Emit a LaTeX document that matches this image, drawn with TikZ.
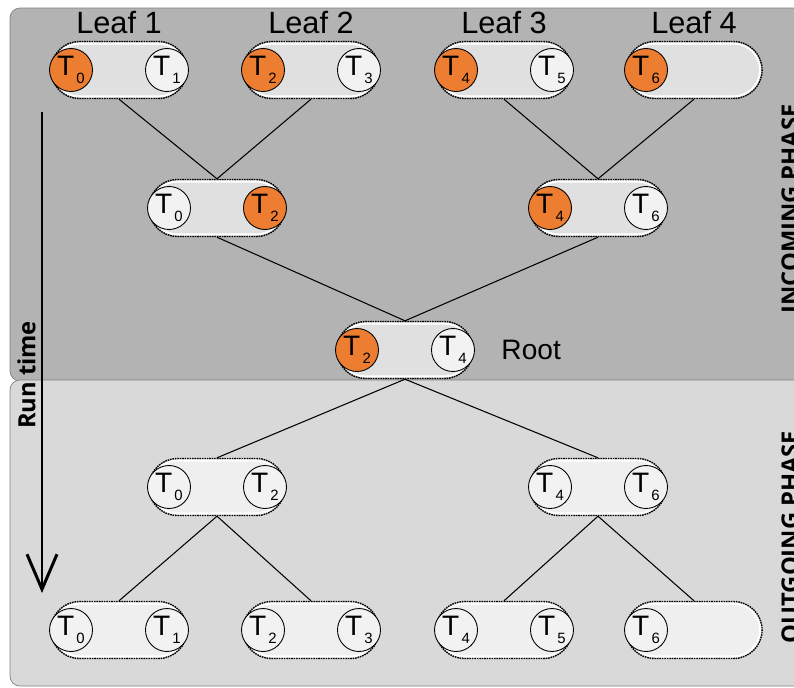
\documentclass[tikz,border=0pt]{standalone}
\usepackage{fontspec}
\setmainfont{Liberation Sans}
\newfontfamily\phasefont{Open Sans}
\usetikzlibrary{positioning,shapes.misc,arrows.meta}
\definecolor{topgray}{HTML}{B3B3B3}
\definecolor{botgray}{HTML}{D9D9D9}
\definecolor{busyorange}{HTML}{ED7D31}
\definecolor{idlewhite}{HTML}{F2F2F2}
\newcommand{\Tk}[1]{T\kern1.2pt\raisebox{-4.5pt}{\fontsize{8.5}{8.5}\selectfont #1}}

\begin{document}
\begin{tikzpicture}[x=0.02cm,y=-0.02cm,font=\fontsize{16}{18}\selectfont]

    \tikzstyle{ring}=[rounded rectangle,draw=black,dash pattern=on 0.9pt off 0.5pt,line width=0.8pt,minimum width=2.96cm,minimum height=1.14cm]
    \tikzstyle{pill}=[rounded rectangle,draw=white,line width=1.2pt,fill=white,fill opacity=0.6,minimum width=2.88cm,minimum height=1.06cm,outer sep=0.04cm]
    \tikzstyle{busy}=[circle,draw=black,line width=0.5pt,fill=busyorange,minimum size=0.86cm,inner sep=0pt,font=\fontsize{16}{16}\selectfont]
    \tikzstyle{idle}=[busy,fill=idlewhite]
    \tikzstyle{phase}=[rotate=90,anchor=north,inner sep=0pt,font={\fontsize{13.5}{16}\phasefont\bfseries}]
    \tikzstyle{leaflabel}=[inner sep=0pt,label distance=0.15cm,font=\fontsize{17.5}{18}\selectfont]

\clip (0,0) rectangle (794,687);

\draw[draw=gray,fill=topgray,rounded corners=0.2cm] (10,8) rectangle (830,381);
\draw[draw=gray,fill=botgray,rounded corners=0.2cm] (10,380) rectangle (830,686);

% incoming phase
\node (Lin_1) [pill,label={[leaflabel]above:Leaf 1}] at (119,70) {};
\node (Lin_2) [pill,label={[leaflabel]above:Leaf 2}] at (311,70) {};
\node (Lin_3) [pill,label={[leaflabel]above:Leaf 3}] at (504,70) {};
\node (Lin_4) [pill,label={[leaflabel]above:Leaf 4}] at (694,70) {};
\node (Min_1) [pill] at (217,208) {};
\node (Min_2) [pill] at (598,208) {};
\node (Root) [pill] at (405,350) {};
\node (Root_label) [right=0.56cm of Root,inner sep=0pt] {Root};

% outgoing phase
\node (Mout_1) [pill] at (217,487) {};
\node (Mout_2) [pill] at (598,487) {};
\node (Lout_1) [pill] at (119,630) {};
\node (Lout_2) [pill] at (311,630) {};
\node (Lout_3) [pill] at (504,630) {};
\node (Lout_4) [pill] at (694,630) {};

% dotted outlines
\foreach \p in {Lin_1,Lin_2,Lin_3,Lin_4,Min_1,Min_2,Root,Mout_1,Mout_2,Lout_1,Lout_2,Lout_3,Lout_4}
  \node (\p_ring) [ring] at (\p.center) {};

\node (Lin_1a) [busy] at ([xshift=-0.96cm]Lin_1.center) {\Tk{0}};
\node (Lin_1b) [idle] at ([xshift=0.96cm]Lin_1.center) {\Tk{1}};
\node (Lin_2a) [busy] at ([xshift=-0.96cm]Lin_2.center) {\Tk{2}};
\node (Lin_2b) [idle] at ([xshift=0.96cm]Lin_2.center) {\Tk{3}};
\node (Lin_3a) [busy] at ([xshift=-0.96cm]Lin_3.center) {\Tk{4}};
\node (Lin_3b) [idle] at ([xshift=0.96cm]Lin_3.center) {\Tk{5}};
\node (Lin_4a) [busy] at ([xshift=-0.96cm]Lin_4.center) {\Tk{6}};
\node (Min_1a) [idle] at ([xshift=-0.96cm]Min_1.center) {\Tk{0}};
\node (Min_1b) [busy] at ([xshift=0.96cm]Min_1.center) {\Tk{2}};
\node (Min_2a) [busy] at ([xshift=-0.96cm]Min_2.center) {\Tk{4}};
\node (Min_2b) [idle] at ([xshift=0.96cm]Min_2.center) {\Tk{6}};
\node (Root_a) [busy] at ([xshift=-0.96cm]Root.center) {\Tk{2}};
\node (Root_b) [idle] at ([xshift=0.96cm]Root.center) {\Tk{4}};

\node (Mout_1a) [idle] at ([xshift=-0.96cm]Mout_1.center) {\Tk{0}};
\node (Mout_1b) [idle] at ([xshift=0.96cm]Mout_1.center) {\Tk{2}};
\node (Mout_2a) [idle] at ([xshift=-0.96cm]Mout_2.center) {\Tk{4}};
\node (Mout_2b) [idle] at ([xshift=0.96cm]Mout_2.center) {\Tk{6}};
\node (Lout_1a) [idle] at ([xshift=-0.96cm]Lout_1.center) {\Tk{0}};
\node (Lout_1b) [idle] at ([xshift=0.96cm]Lout_1.center) {\Tk{1}};
\node (Lout_2a) [idle] at ([xshift=-0.96cm]Lout_2.center) {\Tk{2}};
\node (Lout_2b) [idle] at ([xshift=0.96cm]Lout_2.center) {\Tk{3}};
\node (Lout_3a) [idle] at ([xshift=-0.96cm]Lout_3.center) {\Tk{4}};
\node (Lout_3b) [idle] at ([xshift=0.96cm]Lout_3.center) {\Tk{5}};
\node (Lout_4a) [idle] at ([xshift=-0.96cm]Lout_4.center) {\Tk{6}};

\draw[semithick] (Lin_1_ring.south) -- (Min_1_ring.north) -- (Lin_2_ring.south);
\draw[semithick] (Lin_3_ring.south) -- (Min_2_ring.north) -- (Lin_4_ring.south);
\draw[semithick] (Min_1_ring.south) -- (Root_ring.north) -- (Min_2_ring.south);
\draw[semithick] (Mout_1_ring.north) -- (Root_ring.south) -- (Mout_2_ring.north);
\draw[semithick] (Lout_1_ring.north) -- (Mout_1_ring.south) -- (Lout_2_ring.north);
\draw[semithick] (Lout_3_ring.north) -- (Mout_2_ring.south) -- (Lout_4_ring.north);

% phases and time axis
\node (In_phase) [phase] at (781,209) {INCOMING PHASE};
\node (Out_phase) [phase] at (781,537) {OUTGOING PHASE};

\coordinate (Run_top) at (42,112);
\coordinate (Run_end) at (42,593);
\draw[line width=1.7pt,-{Straight Barb[length=0.7cm,width=0.6cm]}] (Run_top) -- (Run_end);
\node (Run_label) [phase] at (17,375) {Run time};

\end{tikzpicture}
\end{document}
